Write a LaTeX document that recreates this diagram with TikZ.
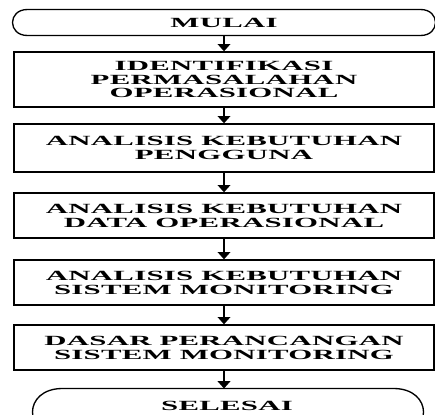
\documentclass[tikz,border=0pt]{standalone}
\usepackage{fontspec}
\usetikzlibrary{arrows.meta}
\newfontfamily\flowfont{Liberation Serif Bold}[FakeStretch=2.2,LetterSpace=2]

\tikzset{every picture/.style={line width=0.75pt}}
\tikzset{
  procbox/.style={draw, line width=1pt, minimum width=315pt, inner sep=0pt, align=center,
    font=\flowfont\fontsize{10.5}{10.4}\selectfont},
  termtext/.style={inner sep=0pt, font=\flowfont\fontsize{10.5}{10.4}\selectfont},
  flowarrow/.style={line width=1.2pt, -{Triangle[length=5.5pt,width=9.5pt]}}
}

\begin{document}
\begin{tikzpicture}[x=0.75pt,y=0.75pt,yscale=-1,xscale=1]
\useasboundingbox (0,0) rectangle (435,414);
\clip (0,0) rectangle (435,414);

%Terminator [id:mulai]
\node (mulai) [termtext, minimum width=324pt, minimum height=18.75pt] at (224,22.5) {MULAI};
\draw [line width=1pt] ([xshift=15pt]mulai.north west) -- ([xshift=-15pt]mulai.north east) .. controls (mulai.north east) and (mulai.south east) .. ([xshift=-15pt]mulai.south east) -- ([xshift=15pt]mulai.south west) .. controls (mulai.south west) and (mulai.north west) .. cycle ;

%Process Boxes
\node (identifikasi) [procbox, minimum height=41.25pt] at (224,79.5) {IDENTIFIKASI\\PERMASALAHAN\\OPERASIONAL};
\node (pengguna) [procbox, minimum height=36pt] at (224,148) {ANALISIS KEBUTUHAN\\PENGGUNA};
\node (dataops) [procbox, minimum height=33.75pt] at (224,215.5) {ANALISIS KEBUTUHAN\\DATA OPERASIONAL};
\node (sistem) [procbox, minimum height=33.75pt] at (224,282.5) {ANALISIS KEBUTUHAN\\SISTEM MONITORING};
\node (dasar) [procbox, minimum height=33.75pt] at (224,347.5) {DASAR PERANCANGAN\\SISTEM MONITORING};

%Terminator [id:selesai]
\node (selesai) [termtext, minimum width=307.5pt, minimum height=34.5pt] at (228,412) {};
\draw [line width=1pt] ([xshift=30pt]selesai.north west) -- ([xshift=-30pt]selesai.north east) .. controls (selesai.north east) and (selesai.south east) .. ([xshift=-30pt]selesai.south east) -- ([xshift=30pt]selesai.south west) .. controls (selesai.south west) and (selesai.north west) .. cycle ;
% Text Node
\node (selesaitext) [termtext] at (227,405.5) {SELESAI};

%Straight Lines
\draw [flowarrow] (mulai.south) -- (identifikasi.north) ;
\draw [flowarrow] (identifikasi.south) -- (pengguna.north) ;
\draw [flowarrow] (pengguna.south) -- (dataops.north) ;
\draw [flowarrow] (dataops.south) -- (sistem.north) ;
\draw [flowarrow] (sistem.south) -- (dasar.north) ;
\draw [flowarrow] (dasar.south) -- (selesai.north -| dasar.south) ;

\end{tikzpicture}
\end{document}
